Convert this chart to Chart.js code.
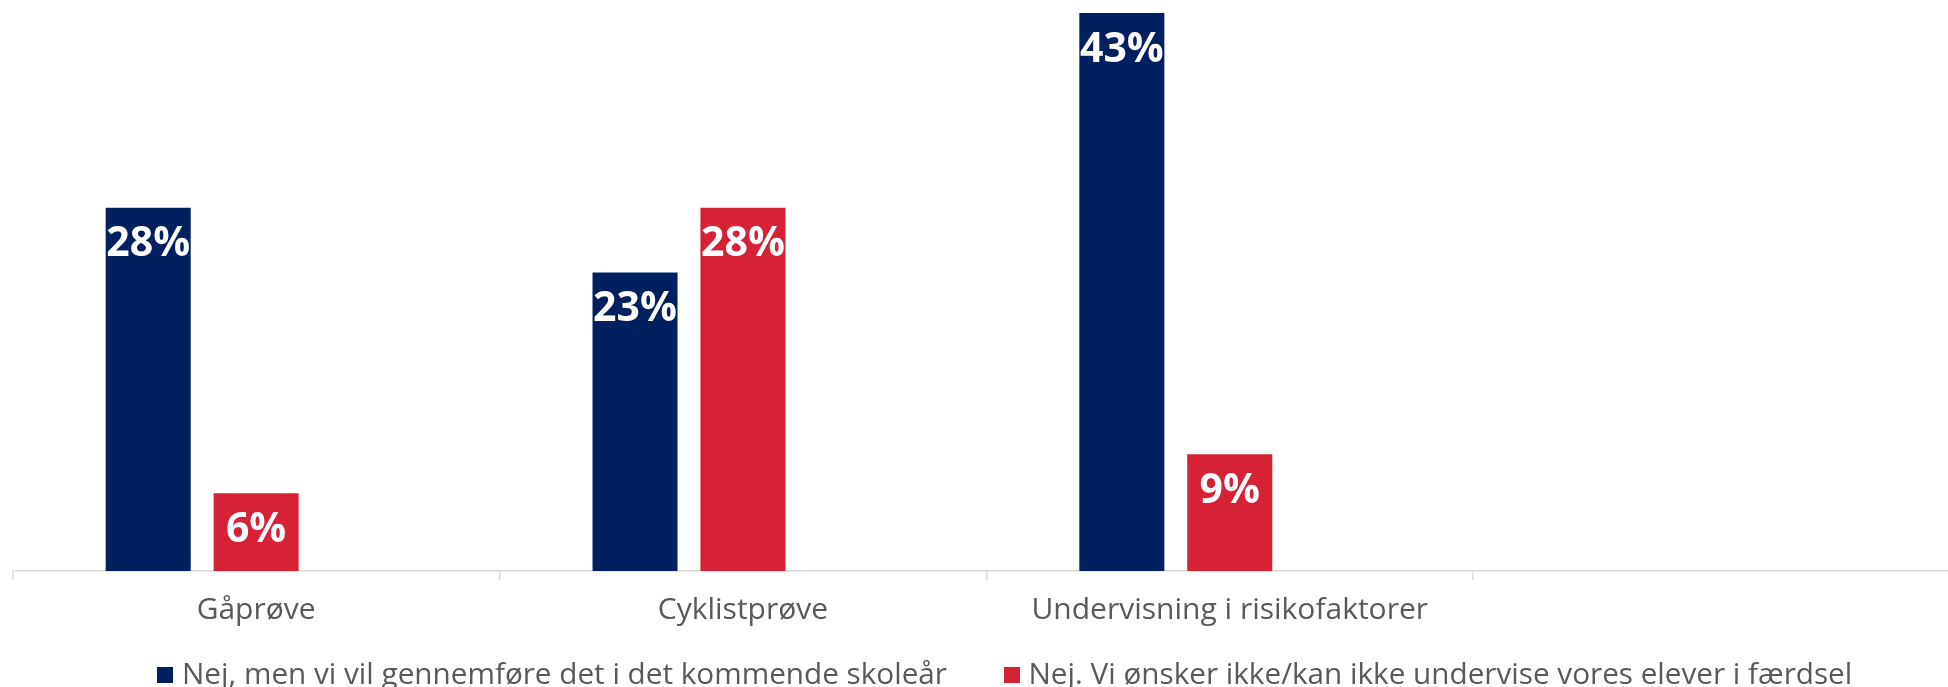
<!DOCTYPE html>
<html>
<head>
<meta charset="utf-8">
<script src="https://cdn.jsdelivr.net/npm/chart.js@4.4.1/dist/chart.umd.min.js"></script>
<style>
  html, body { margin: 0; padding: 0; background: #ffffff; overflow: hidden; }
  #wrap { position: relative; width: 1960px; height: 700px; }
</style>
</head>
<body>
<div id="wrap"><canvas id="c"></canvas></div>
<script>
// ---- data ----
const categories = ['Gåprøve', 'Cyklistprøve', 'Undervisning i risikofaktorer', ''];
const seriesNames = [
  'Nej, men vi vil gennemføre det i det kommende skoleår',
  'Nej. Vi ønsker ikke/kan ikke undervise vores elever i færdsel',
  ''
];
const planNextYear = [28, 23, 43, null];
const notWanted = [6, 28, 9, null];
const emptySeries = [null, null, null, null];
const yMax = 44;

const NAVY = '#002060';
const RED = '#D62234';
const GREY_TEXT = '#595959';
const AXIS = '#d9d9d9';

function makeSwatch(color) {
  const c = document.createElement('canvas');
  c.width = 16; c.height = 16;
  const g = c.getContext('2d');
  g.fillStyle = color;
  g.fillRect(0, 0, 16, 16);
  return c;
}

const valueLabels = {
  id: 'valueLabels',
  afterDatasetsDraw(chart) {
    const ctx = chart.ctx;
    chart.data.datasets.forEach((ds, i) => {
      const meta = chart.getDatasetMeta(i);
      if (meta.hidden) return;
      meta.data.forEach((bar, j) => {
        const v = ds.data[j];
        if (v == null) return;
        ctx.save();
        ctx.fillStyle = '#ffffff';
        ctx.font = 'bold 41px "Open Sans"';
        ctx.textAlign = 'center';
        ctx.textBaseline = 'middle';
        ctx.fillText(v + '%', bar.x, bar.y + 37);
        ctx.restore();
      });
    });
  }
};

// let the x labels draw below the (shortened) axis box, and centre the legend like the original
const layoutTweaks = {
  id: 'layoutTweaks',
  afterLayout(chart) {
    const sx = chart.scales.x;
    sx.bottom = sx.top + 80;
    const lg = chart.legend;
    if (lg) {
      const delta = 1007.7 - (lg.left + lg.right) / 2;
      lg.left += delta;
      lg.right += delta;
    }
  }
};

new Chart(document.getElementById('c'), {
  type: 'bar',
  data: {
    labels: categories,
    datasets: [
      { label: seriesNames[0], data: planNextYear, backgroundColor: NAVY },
      { label: seriesNames[1], data: notWanted, backgroundColor: RED },
      { label: seriesNames[2], data: emptySeries, backgroundColor: '#a6a6a6' }
    ]
  },
  options: {
    responsive: true,
    maintainAspectRatio: false,
    animation: false,
    devicePixelRatio: 1,
    datasets: { bar: { categoryPercentage: 0.665, barPercentage: 0.788 } },
    layout: { padding: { left: 12.7, right: 0, top: 0, bottom: 0 } },
    scales: {
      x: {
        grid: { display: true, drawOnChartArea: false, drawTicks: true, tickLength: 9, color: AXIS, lineWidth: 1.5, offset: true },
        border: { display: true, color: AXIS, width: 1.5 },
        ticks: { color: GREY_TEXT, font: { family: 'Open Sans', size: 30 }, padding: 12, maxRotation: 0, autoSkip: false },
        afterFit(scale) { scale.height = 26.6; }
      },
      y: { display: false, min: 0, max: yMax }
    },
    plugins: {
      legend: {
        position: 'bottom',
        labels: {
          usePointStyle: true,
          pointStyleWidth: 4,
          boxHeight: 16,
          generateLabels(chart) {
            const items = Chart.defaults.plugins.legend.labels.generateLabels(chart);
            items.forEach((it) => { it.pointStyle = makeSwatch(it.fillStyle); });
            return items.filter((it) => it.text !== '');
          },
          color: GREY_TEXT,
          font: { family: 'Open Sans', size: 29.7 },
          padding: 62.7
        }
      },
      tooltip: { enabled: false }
    }
  },
  plugins: [valueLabels, layoutTweaks]
});
</script>
</body>
</html>
